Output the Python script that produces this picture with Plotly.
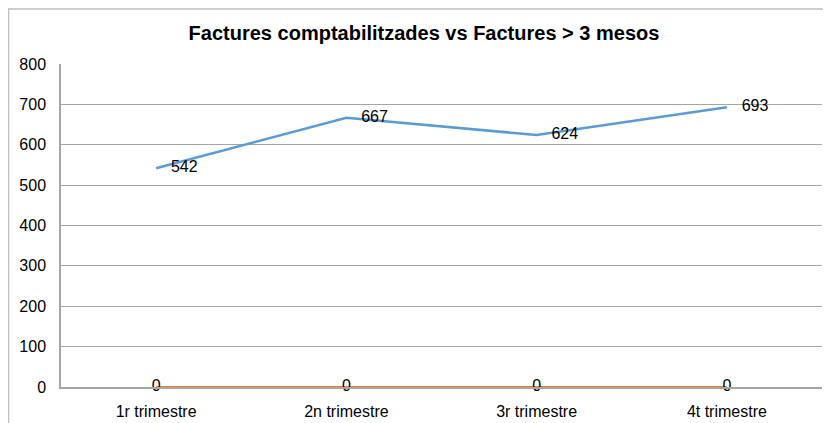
import plotly.graph_objects as go

categories = ["1r trimestre", "2n trimestre", "3r trimestre", "4t trimestre"]
factures_comptabilitzades = [542, 667, 624, 693]
factures_3_mesos = [0, 0, 0, 0]
y_ticks = [0, 100, 200, 300, 400, 500, 600, 700, 800]

FONT = "Liberation Sans, Arial"

# page body has an 8px margin; figure is offset by 8px in the window
W, H = 815, 415
L, R, T, B = 53, 1, 56, 36
pw, ph = W - L - R, H - T - B

fig = go.Figure()
fig.add_trace(go.Scatter(
    x=categories, y=factures_3_mesos, mode="lines+text",
    text=[str(v) for v in factures_3_mesos], textposition="middle center",
    line=dict(color="#ed7d31", width=2), cliponaxis=False,
    textfont=dict(family=FONT, size=16, color="#000000"),
    name="Factures > 3 mesos"))
fig.add_trace(go.Scatter(
    x=categories, y=factures_comptabilitzades, mode="lines+markers+text",
    text=[str(v) for v in factures_comptabilitzades], textposition="middle right",
    marker=dict(size=22, color="rgba(0,0,0,0)"),
    line=dict(color="#5b9bd5", width=2.5), cliponaxis=False,
    textfont=dict(family=FONT, size=16, color="#000000"),
    name="Factures comptabilitzades"))

fig.update_layout(
    width=W, height=H,
    margin=dict(l=L, r=R, t=T, b=B, autoexpand=False),
    paper_bgcolor="white", plot_bgcolor="white",
    showlegend=False,
    title=dict(text="<b>Factures comptabilitzades vs Factures > 3 mesos</b>",
               x=416 / W, xref="container", y=1 - 25 / H, yref="container",
               xanchor="center", yanchor="middle",
               font=dict(family=FONT, size=20, color="#000000")),
    font=dict(family=FONT, size=16, color="#000000"),
    shapes=[dict(type="rect", xref="paper", yref="paper",
                 x0=(0.5 - L) / pw, x1=1.2, y0=-0.5, y1=(H - B - 1) / ph,
                 line=dict(color="#bfbfbf", width=1.5), layer="below")],
)
fig.update_xaxes(type="category", range=[-0.5, 3.5], showgrid=False,
                 showline=True, linecolor="#a6a6a6", linewidth=1.5,
                 ticks="", ticklabelstandoff=9, zeroline=False, automargin=False,
                 tickfont=dict(family=FONT, size=16))
fig.update_yaxes(range=[0, 800], tickvals=y_ticks, showgrid=True,
                 gridcolor="#a6a6a6", gridwidth=1, showline=True,
                 linecolor="#a6a6a6", linewidth=1.5, ticks="", automargin=False,
                 ticklabelstandoff=10, zeroline=False,
                 tickfont=dict(family=FONT, size=16))

fig.write_html(
    "out.html",
    post_script="document.documentElement.style.overflow='hidden';"
                "document.body.style.overflow='hidden';")
